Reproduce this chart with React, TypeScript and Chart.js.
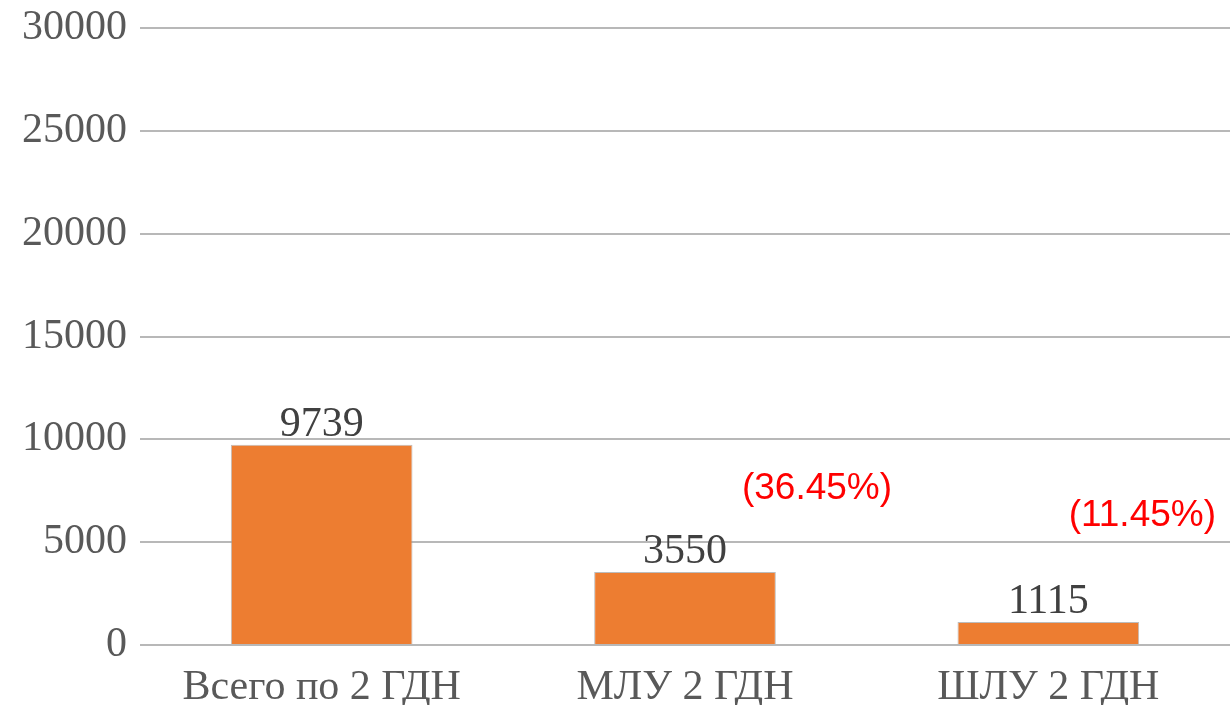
import React, { useEffect, useRef } from "react";
import { Chart, registerables } from "chart.js";

Chart.register(...registerables);

const categories = ["Всего по 2 ГДН", "МЛУ 2 ГДН", "ШЛУ 2 ГДН"];
const values = [9739, 3550, 1115];
const shareLabels = ["", "(36.45%)", "(11.45%)"];
const shareLabelY = [0, 7600, 6300];
const yTicks = [0, 5000, 10000, 15000, 20000, 25000, 30000];

const serif = "'Liberation Serif', 'Times New Roman', serif";
const sans = "'Liberation Sans', Arial, sans-serif";

const labelPlugin = {
  id: "barLabels",
  afterDatasetsDraw(chart: any) {
    const ctx = chart.ctx;
    const meta = chart.getDatasetMeta(0);
    const yScale = chart.scales.y;
    ctx.save();
    meta.data.forEach((bar: any, i: number) => {
      ctx.font = `42px ${serif}`;
      ctx.fillStyle = "#404040";
      ctx.textAlign = "center";
      ctx.textBaseline = "alphabetic";
      ctx.fillText(String(values[i]), bar.x, bar.y - 9);
      if (shareLabels[i]) {
        ctx.font = `37px ${sans}`;
        ctx.fillStyle = "#ff0000";
        ctx.textAlign = "center";
        ctx.textBaseline = "middle";
        const dx = i === 1 ? 132 : 94;
        ctx.fillText(shareLabels[i], bar.x + dx, yScale.getPixelForValue(shareLabelY[i]));
      }
    });
    ctx.restore();
  },
};

export default function App() {
  const ref = useRef<HTMLCanvasElement>(null);
  useEffect(() => {
    document.body.style.margin = "0";
    const chart = new Chart(ref.current!, {
      type: "bar",
      data: {
        labels: categories,
        datasets: [
          {
            data: values,
            backgroundColor: "#ED7D31",
            borderColor: "rgba(160,160,160,0.7)",
            borderWidth: 1,
            categoryPercentage: 1,
            barPercentage: 0.5,
          },
        ],
      },
      options: {
        animation: false,
        responsive: false,
        layout: { padding: { top: 0, left: 0, right: 0, bottom: 0 } },
        plugins: { legend: { display: false }, tooltip: { enabled: false } },
        scales: {
          x: {
            grid: { display: false, drawTicks: false },
            border: { display: false },
            ticks: {
              font: { family: serif, size: 42 },
              color: "#595959",
              padding: 18,
              maxRotation: 0,
            },
            afterFit(scale: any) {
              scale.height = 60;
            },
          },
          y: {
            min: 0,
            max: 30000,
            afterBuildTicks(scale: any) {
              scale.ticks = yTicks.map((v) => ({ value: v }));
            },
            grid: { color: "#b8b8b8", lineWidth: 2, drawTicks: false, tickLength: 0 },
            border: { display: false },
            ticks: {
              font: { family: serif, size: 42 },
              color: "#595959",
              padding: 13,
              callback: (v: any) => String(v),
            },
            afterFit(scale: any) {
              scale.width = 140;
              scale.paddingTop = 28;
            },
          },
        },
      },
      plugins: [labelPlugin],
    });
    return () => chart.destroy();
  }, []);
  return (
    <div style={{ position: "absolute", left: 0, top: 0, width: 1230, height: 705 }}>
      <canvas ref={ref} width={1230} height={705} style={{ width: 1230, height: 705 }} />
    </div>
  );
}
